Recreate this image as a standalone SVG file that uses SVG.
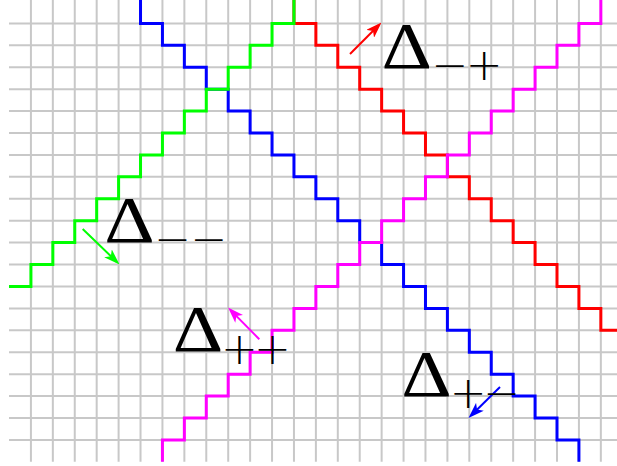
<svg xmlns="http://www.w3.org/2000/svg" width="617" height="466" viewBox="0 0 617 466">
<style>
.grid line{stroke:#c8c8c8;stroke-width:2}
.stair{fill:none;stroke-width:3;stroke-linejoin:miter;stroke-linecap:butt}
.arr{stroke-width:2;fill:none}
.big{font-family:"Liberation Serif","Times New Roman",serif;font-size:66px;fill:#000;text-anchor:middle}
.sub{font-family:"DejaVu Sans",sans-serif;font-weight:200;font-size:44px;fill:#000;text-anchor:middle}
</style>
<defs>
<marker id="ahR" markerUnits="userSpaceOnUse" markerWidth="16" markerHeight="11" refX="12" refY="5.5" orient="auto"><path d="M0,0 L16,5.5 L0,11 L4,5.5 z" fill="#ff0000"/></marker>
<marker id="ahG" markerUnits="userSpaceOnUse" markerWidth="16" markerHeight="11" refX="12" refY="5.5" orient="auto"><path d="M0,0 L16,5.5 L0,11 L4,5.5 z" fill="#00ff00"/></marker>
<marker id="ahM" markerUnits="userSpaceOnUse" markerWidth="16" markerHeight="11" refX="12" refY="5.5" orient="auto"><path d="M0,0 L16,5.5 L0,11 L4,5.5 z" fill="#ff00ff"/></marker>
<marker id="ahB" markerUnits="userSpaceOnUse" markerWidth="16" markerHeight="11" refX="12" refY="5.5" orient="auto"><path d="M0,0 L16,5.5 L0,11 L4,5.5 z" fill="#0000ff"/></marker>
</defs>
<g class="grid" id="grid">
<line x1="30.92" y1="0" x2="30.92" y2="461.8"/><line x1="52.84" y1="0" x2="52.84" y2="461.8"/><line x1="74.76" y1="0" x2="74.76" y2="461.8"/><line x1="96.68" y1="0" x2="96.68" y2="461.8"/><line x1="118.6" y1="0" x2="118.6" y2="461.8"/><line x1="140.52" y1="0" x2="140.52" y2="461.8"/><line x1="162.44" y1="0" x2="162.44" y2="461.8"/><line x1="184.36" y1="0" x2="184.36" y2="461.8"/><line x1="206.28" y1="0" x2="206.28" y2="461.8"/><line x1="228.2" y1="0" x2="228.2" y2="461.8"/><line x1="250.12" y1="0" x2="250.12" y2="461.8"/><line x1="272.04" y1="0" x2="272.04" y2="461.8"/><line x1="293.96" y1="0" x2="293.96" y2="461.8"/><line x1="315.88" y1="0" x2="315.88" y2="461.8"/><line x1="337.8" y1="0" x2="337.8" y2="461.8"/><line x1="359.72" y1="0" x2="359.72" y2="461.8"/><line x1="381.64" y1="0" x2="381.64" y2="461.8"/><line x1="403.56" y1="0" x2="403.56" y2="461.8"/><line x1="425.48" y1="0" x2="425.48" y2="461.8"/><line x1="447.4" y1="0" x2="447.4" y2="461.8"/><line x1="469.32" y1="0" x2="469.32" y2="461.8"/><line x1="491.24" y1="0" x2="491.24" y2="461.8"/><line x1="513.16" y1="0" x2="513.16" y2="461.8"/><line x1="535.08" y1="0" x2="535.08" y2="461.8"/><line x1="557" y1="0" x2="557" y2="461.8"/><line x1="578.92" y1="0" x2="578.92" y2="461.8"/><line x1="600.84" y1="0" x2="600.84" y2="461.8"/>
<line x1="9" y1="23.42" x2="617" y2="23.42"/><line x1="9" y1="45.34" x2="617" y2="45.34"/><line x1="9" y1="67.26" x2="617" y2="67.26"/><line x1="9" y1="89.18" x2="617" y2="89.18"/><line x1="9" y1="111.1" x2="617" y2="111.1"/><line x1="9" y1="133.02" x2="617" y2="133.02"/><line x1="9" y1="154.94" x2="617" y2="154.94"/><line x1="9" y1="176.86" x2="617" y2="176.86"/><line x1="9" y1="198.78" x2="617" y2="198.78"/><line x1="9" y1="220.7" x2="617" y2="220.7"/><line x1="9" y1="242.62" x2="617" y2="242.62"/><line x1="9" y1="264.54" x2="617" y2="264.54"/><line x1="9" y1="286.46" x2="617" y2="286.46"/><line x1="9" y1="308.38" x2="617" y2="308.38"/><line x1="9" y1="330.3" x2="617" y2="330.3"/><line x1="9" y1="352.22" x2="617" y2="352.22"/><line x1="9" y1="374.14" x2="617" y2="374.14"/><line x1="9" y1="396.06" x2="617" y2="396.06"/><line x1="9" y1="417.98" x2="617" y2="417.98"/><line x1="9" y1="439.9" x2="617" y2="439.9"/>
</g>
<g id="connectors">
<path id="blue" class="stair" stroke="#0000ff" d="M140.52,0 V23.42 h21.92v21.92 h21.92v21.92 h21.92v21.92 h21.92v21.92 h21.92v21.92 h21.92v21.92 h21.92v21.92 h21.92v21.92 h21.92v21.92 h21.92v21.92 h21.92v21.92 h21.92v21.92 h21.92v21.92 h21.92v21.92 h21.92v21.92 h21.92v21.92 h21.92v21.92 h21.92v21.92 h21.92v21.92 h21.92v21.92"/>
<path id="red" class="stair" stroke="#ff0000" d="M293.96,0 V23.42 h21.92v21.92 h21.92v21.92 h21.92v21.92 h21.92v21.92 h21.92v21.92 h21.92v21.92 h21.92v21.92 h21.92v21.92 h21.92v21.92 h21.92v21.92 h21.92v21.92 h21.92v21.92 h21.92v21.92 h21.92v21.92 H617"/>
<path id="green" class="stair" stroke="#00ff00" d="M9,286.46 h21.92v-21.92 h21.92v-21.92 h21.92v-21.92 h21.92v-21.92 h21.92v-21.92 h21.92v-21.92 h21.92v-21.92 h21.92v-21.92 h21.92v-21.92 h21.92v-21.92 h21.92v-21.92 h21.92v-21.92 h21.92v-21.92 V0"/>
<path id="magenta" class="stair" stroke="#ff00ff" d="M162.44,461.82 v-21.92h21.92 v-21.92h21.92 v-21.92h21.92 v-21.92h21.92 v-21.92h21.92 v-21.92h21.92 v-21.92h21.92 v-21.92h21.92 v-21.92h21.92 v-21.92h21.92 v-21.92h21.92 v-21.92h21.92 v-21.92h21.92 v-21.92h21.92 v-21.92h21.92 v-21.92h21.92 v-21.92h21.92 v-21.92h21.92 v-21.92h21.92 v-21.92h21.92 V0"/>
<line class="arr" stroke="#ff0000" x1="350" y1="54" x2="378.67" y2="25.33" marker-end="url(#ahR)"/>
<line class="arr" stroke="#00ff00" x1="82.7" y1="229" x2="116.62" y2="261.72" marker-end="url(#ahG)"/>
<line class="arr" stroke="#ff00ff" x1="259.3" y1="339.3" x2="230.81" y2="310.35" marker-end="url(#ahM)"/>
<line class="arr" stroke="#0000ff" x1="500" y1="387" x2="471.35" y2="415.2" marker-end="url(#ahB)"/>
</g>
<g id="label-mp"><text class="big" transform="translate(406.8,67.5) scale(1.19,1)">Δ</text><text><tspan class="sub" x="450" y="80.1">−</tspan><tspan class="sub" x="484.3" y="80.1">+</tspan></text></g>
<g id="label-mm"><text class="big" transform="translate(129.5,241.8) scale(1.19,1)">Δ</text><text><tspan class="sub" x="172.7" y="253.6">−</tspan><tspan class="sub" x="208.9" y="253.6">−</tspan></text></g>
<g id="label-pp"><text class="big" transform="translate(198,350.8) scale(1.19,1)">Δ</text><text><tspan class="sub" x="239.4" y="364.1">+</tspan><tspan class="sub" x="272.4" y="364.1">+</tspan></text></g>
<g id="label-pm"><text class="big" transform="translate(426.5,396) scale(1.19,1)">Δ</text><text><tspan class="sub" x="468.2" y="408.4">+</tspan><tspan class="sub" x="501.7" y="408.4">−</tspan></text></g>
</svg>
